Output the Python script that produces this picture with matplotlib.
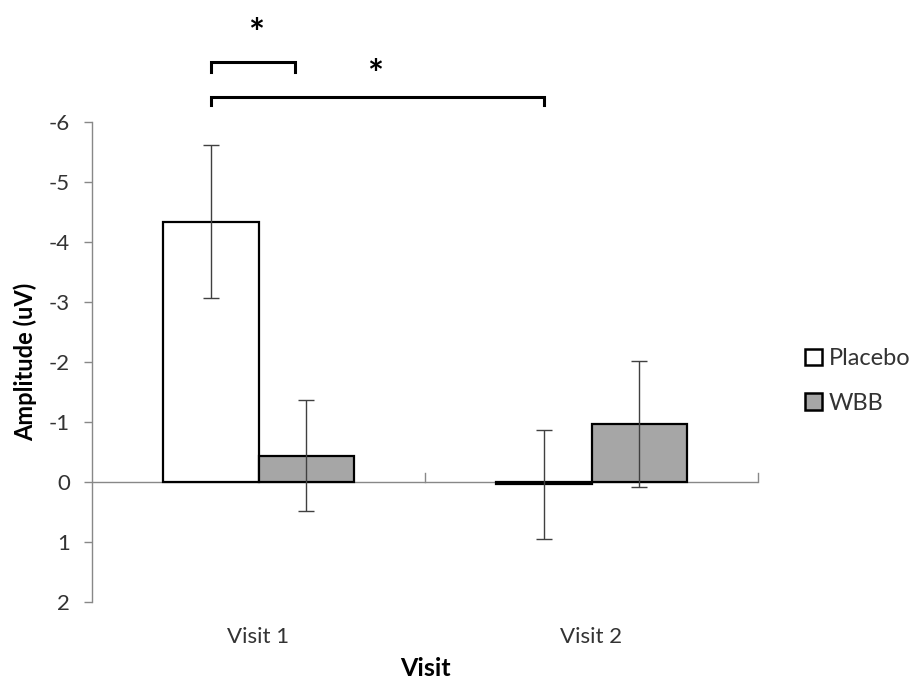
import matplotlib
matplotlib.use("Agg")
import matplotlib.pyplot as plt
import numpy as np
from matplotlib.patches import Patch

plt.rcParams['font.family'] = ['Lato', 'DejaVu Sans']

categories = ["Visit 1", "Visit 2"]
series_names = ["Placebo", "WBB"]
placebo = [-4.34, 0.04]
wbb = [-0.44, -0.97]
placebo_err = [1.27, 0.91]
wbb_err = [0.93, 1.05]
yticks = [-6, -5, -4, -3, -2, -1, 0, 1, 2]

fig = plt.figure(figsize=(9.11, 6.81), dpi=100)
ax = fig.add_axes([92/911, 1-602/681, (758-92)/911, (602-122)/681])

x = np.arange(len(categories))
w = 0.286
edge = '#000000'
errc = '#404040'
ax.bar(x - w/2, placebo, w, color='white', edgecolor=edge, linewidth=1.6, zorder=3)
ax.bar(x + w/2, wbb, w, color='#a6a6a6', edgecolor=edge, linewidth=1.6, zorder=3)
ax.errorbar(x - w/2, placebo, yerr=placebo_err, fmt='none', ecolor=errc,
            elinewidth=1.0, capsize=6, capthick=1.0, zorder=4)
ax.errorbar(x + w/2, wbb, yerr=wbb_err, fmt='none', ecolor=errc,
            elinewidth=1.0, capsize=6, capthick=1.0, zorder=4)

ax.set_xlim(-0.5, 1.5)
ax.set_ylim(2, -6)
ax.set_yticks(yticks)
ax.set_yticklabels([str(t) for t in yticks])
ax.tick_params(axis='y', direction='out', length=6, width=1, color='#888888',
               labelsize=16, labelcolor='#333333', pad=10)

# x axis: zero line with upward ticks at category boundaries
ax.axhline(0, color='#888888', linewidth=1.0, zorder=2)
for b in [0.5, 1.5]:
    ax.plot([b, b], [0, -0.15], color='#888888', linewidth=1.0, zorder=2, clip_on=False)
ax.set_xticks([])
for i, c in enumerate(categories):
    ax.text(i, 2.58, c, ha='center', va='center', fontsize=16, color='#333333')

for s in ['top', 'right', 'bottom']:
    ax.spines[s].set_visible(False)
ax.spines['left'].set_color('#888888')
ax.spines['left'].set_linewidth(1.0)

ax.set_ylabel("Amplitude (uV)", fontsize=17, fontweight='bold', labelpad=8)
fig.text(425/911, 1-668/681, "Visit", ha='center', va='center', fontsize=18, fontweight='bold')

# significance brackets
def bracket(x0, x1, ytop, drop, star_x, star_y):
    ax.plot([x0, x0, x1, x1], [ytop + drop, ytop, ytop, ytop + drop], color='black',
            linewidth=2.2, clip_on=False, solid_joinstyle='miter')
    ax.text(star_x, star_y, "*", ha='center', va='center', fontsize=27, fontweight='bold',
            clip_on=False)

p1 = x[0] - w/2
bracket(p1, 0.111, -7.0, 0.17, (p1 + 0.111)/2 + 0.01, -7.45)
bracket(p1, x[1] - w/2, -6.42, 0.14, 0.35, -6.76)

handles = [Patch(facecolor='white', edgecolor='black', linewidth=1.8),
           Patch(facecolor='#a6a6a6', edgecolor='black', linewidth=1.8)]
leg = fig.legend(handles, series_names, loc='center left', bbox_to_anchor=(784/911, 1-381/681),
                 frameon=False, fontsize=17, handlelength=0.7, handleheight=0.7,
                 handletextpad=0.3, labelspacing=1.0)
for t in leg.get_texts():
    t.set_color('#333333')

fig.savefig("out.png", dpi=100)
